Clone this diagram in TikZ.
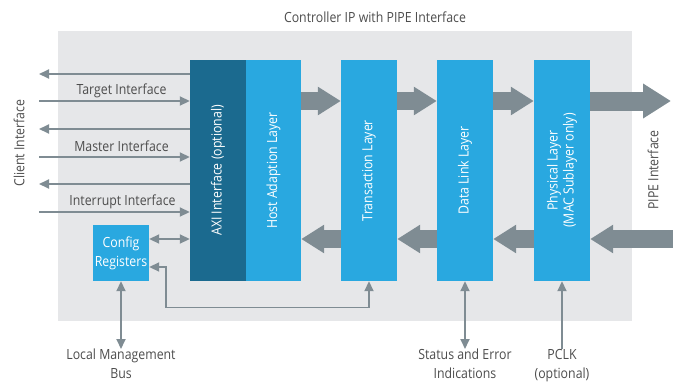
\documentclass[tikz,border=0pt]{standalone}
\usepackage{fontspec}
\setmainfont{Open Sans}[FakeStretch=0.88]
\usetikzlibrary{arrows.meta}
\definecolor{bggray}{HTML}{E6E7E9}
\definecolor{darkblue}{HTML}{1B6A8F}
\definecolor{lightblue}{HTML}{29A8E0}
\definecolor{arrgray}{HTML}{7F8C93}
\definecolor{txtgray}{HTML}{4D4D4D}
\tikzset{
  blk/.style={fill=lightblue, draw=none, inner sep=0pt},
  intext/.style={text=white, font=\fontsize{14}{16}\selectfont, rotate=90, align=center},
  lbl/.style={text=txtgray, font=\fontsize{14}{19}\selectfont, align=center, inner sep=0pt},
  fat/.style={draw=arrgray, line width=18pt, -{Triangle[length=23pt,width=27pt]}},
  bigfat/.style={draw=arrgray, line width=19pt, -{Triangle[length=28pt,width=33pt]}},
  thin/.style={draw=arrgray, line width=1.8pt, -{Triangle[length=10pt,width=9pt]}},
  thinboth/.style={draw=arrgray, line width=1.8pt, {Triangle[length=10pt,width=9pt]}-{Triangle[length=10pt,width=9pt]}},
}
\begin{document}
\begin{tikzpicture}[x=1pt,y=-1pt]
\useasboundingbox (0,0) rectangle (673,386);
% background
\node[fill=bggray, minimum width=574pt, minimum height=290pt, inner sep=0pt] (bg) at (344.5,176) {};
\node[lbl] (title) at (375,17) {Controller IP with PIPE Interface};
% blocks
\node[blk, fill=darkblue, minimum width=56pt, minimum height=221pt] (axi) at (218,170.5) {};
\node[blk, minimum width=55pt, minimum height=221pt] (hal) at (273.5,170.5) {};
\node[blk, minimum width=56pt, minimum height=221pt] (tl) at (369,170.5) {};
\node[blk, minimum width=56pt, minimum height=221pt] (dll) at (465,170.5) {};
\node[blk, minimum width=56pt, minimum height=221pt] (phy) at (562,170.5) {};
\node[intext] at (axi.center) {AXI Interface (optional)};
\node[intext] at (hal.center) {Host Adaption Layer};
\node[intext] at (tl.center) {Transaction Layer};
\node[intext] at (dll.center) {Data Link Layer};
\node[intext] at (phy.center) {Physical Layer\\(MAC Sublayer only)};
\node[blk, minimum width=56pt, minimum height=56pt, text=white, font=\fontsize{14}{19}\selectfont, align=center] (cfg) at (121,253) {Config\\Registers};
% row levels
\coordinate (rt) at (0,101);
\coordinate (rb) at (0,239);
% fat arrows top
\draw[fat] (hal.east |- rt) -- (tl.west |- rt);
\draw[fat] (tl.east |- rt) -- (dll.west |- rt);
\draw[fat] (dll.east |- rt) -- (phy.west |- rt);
\coordinate (pipeout) at (671,101);
\draw[bigfat] (phy.east |- rt) -- (pipeout);
% fat arrows bottom
\coordinate (pipein) at (673,239);
\draw[fat] (pipein) -- (phy.east |- rb);
\draw[fat] (phy.west |- rb) -- (dll.east |- rb);
\draw[fat] (dll.west |- rb) -- (tl.east |- rb);
\draw[fat] (tl.west |- rb) -- (hal.east |- rb);
% client thin arrows
\foreach \y/\n in {74/a,129/b,184/c}{
  \coordinate (L\n) at (39,\y);
  \draw[thin] (axi.west |- L\n) -- (L\n);
}
\foreach \y/\n in {101/a,157/b,212/c}{
  \coordinate (R\n) at (39,\y);
  \draw[thin] (R\n) -- (axi.west |- R\n);
}
\node[lbl] (ti) at (121.5,91) {Target Interface};
\node[lbl] (mi) at (121.5,146.5) {Master Interface};
\node[lbl] (ii) at (122.5,201.5) {Interrupt Interface};
\node[lbl, rotate=90] (ci) at (19,143) {Client Interface};
\node[lbl, rotate=90] (pi) at (653,170) {PIPE Interface};
% config connections
\draw[thinboth] (cfg.east |- rb) -- (axi.west |- rb);
\coordinate (c1) at (166,267);
\coordinate (c2) at (166,307.5);
\draw[thinboth] (cfg.east |- c1) -- (c1) -- (c2) -- (tl.south |- c2) -- (tl.south);
% bottom labels
\node[lbl, anchor=north] (lmb) at (121,349) {Local Management\\Bus};
\draw[thinboth] (cfg.south) -- (lmb.north);
\node[lbl, anchor=north] (sei) at (465,349) {Status and Error\\Indications};
\draw[thinboth] (dll.south) -- (sei.north);
\node[lbl, anchor=north] (pclk) at (562,349) {PCLK\\(optional)};
\draw[thin] (pclk.north) -- (phy.south);
\end{tikzpicture}
\end{document}
